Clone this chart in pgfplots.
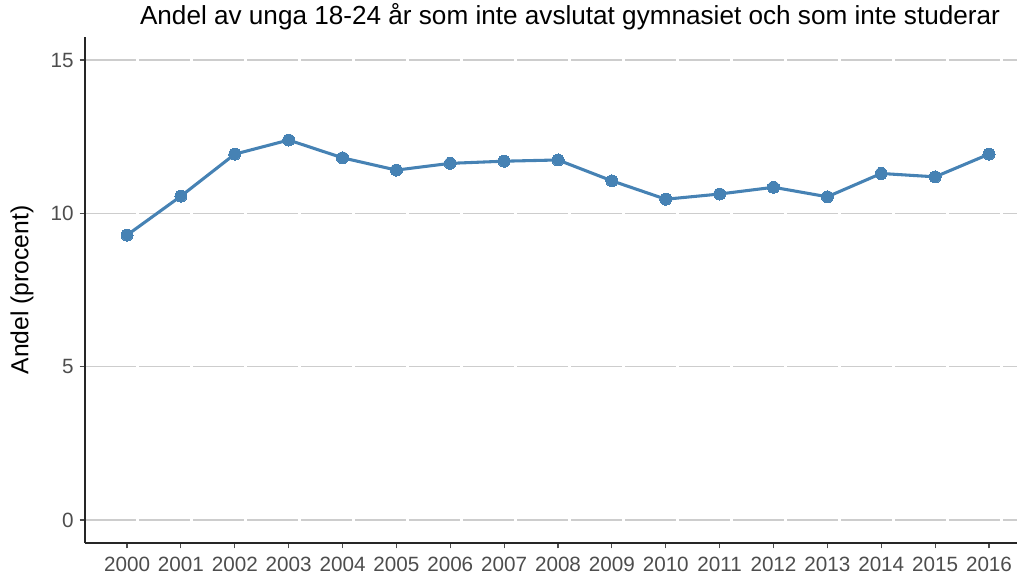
\documentclass[border=0pt]{standalone}
\usepackage{fontspec}
\setmainfont{Liberation Sans}
\usepackage{pgfplots}
\pgfplotsset{compat=1.18}
\definecolor{steel}{RGB}{70,130,180}
\definecolor{gridc}{RGB}{205,205,205}
\definecolor{tickc}{RGB}{77,77,77}
\begin{document}
\begin{tikzpicture}
\useasboundingbox (0,0) rectangle (762.75pt,432pt);
\begin{axis}[
  at={(63.75pt,24.75pt)}, anchor=south west,
  scale only axis, width=699pt, height=379.5pt,
  xmin=1999.22, xmax=2016.52, ymin=-0.75, ymax=15.75,
  axis x line*=bottom, axis y line*=left,
  axis line style={black!85, line width=0.8pt, -},
  xtick={2000,2001,2002,2003,2004,2005,2006,2007,2008,2009,2010,2011,2012,2013,2014,2015,2016},
  ytick={0,5,10,15},
  /pgf/number format/assume math mode=true,
  /pgf/number format/1000 sep={},
  tick align=outside, major tick length=4pt,
  tick style={tickc, line width=0.8pt},
  ticklabel style={font=\fontsize{15.5}{18}\selectfont, text=tickc},
  xticklabel style={yshift=-3pt},
  yticklabel style={xshift=-1pt},
  ymajorgrids,
  major grid style={gridc, line width=1.2pt, dash pattern=on 38pt off 2.5pt},
  ylabel={Andel (procent)},
  ylabel style={font=\fontsize{18.5}{22}\selectfont, at={(axis description cs:-0.0676,0.5)}, anchor=center, rotate=0},
  title={Andel av unga 18-24 år som inte avslutat gymnasiet och som inte studerar},
  title style={font=\fontsize{19.6}{23}\selectfont, at={(rel axis cs:0.5204,1)}, anchor=base, yshift=3pt},
]
\addplot[steel, line width=2.3pt, mark=*, mark size=4.5pt, mark options={fill=steel, draw=steel, line width=0pt}] coordinates {
(2000,9.29) (2001,10.56) (2002,11.93) (2003,12.39) (2004,11.81) (2005,11.41)
(2006,11.63) (2007,11.70) (2008,11.74) (2009,11.06) (2010,10.46) (2011,10.63)
(2012,10.85) (2013,10.54) (2014,11.30) (2015,11.19) (2016,11.93)
};
\end{axis}
\end{tikzpicture}
\end{document}
